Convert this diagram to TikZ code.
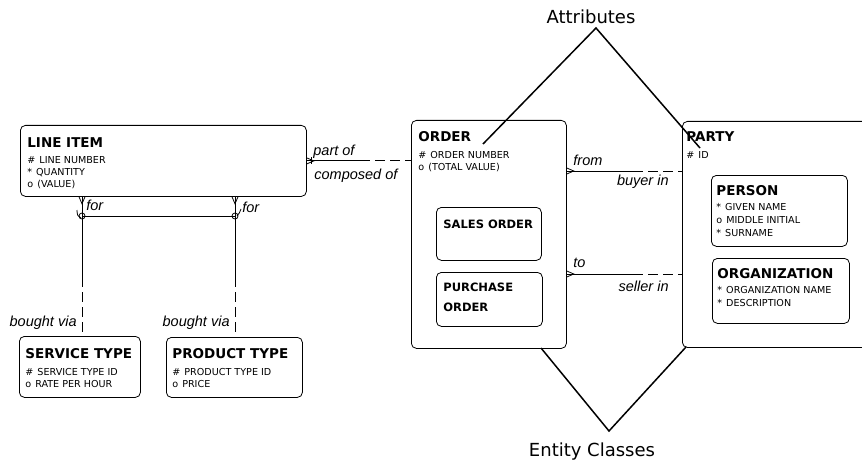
\documentclass[tikz,border=0pt]{standalone}
\usepackage{fontspec}
\setmainfont{DejaVu Sans}
\newfontfamily\lblfont{Liberation Sans}
\usetikzlibrary{calc}
\begin{document}
\begin{tikzpicture}[x=1pt,y=-1pt,line width=0.8pt,
  ebox/.style={draw,rounded corners=5pt,anchor=north west,inner sep=0pt},
  ttl/.style={anchor=base west,inner sep=0pt,font=\fontsize{13.5}{13.5}\selectfont\bfseries},
  sttl/.style={anchor=base west,inner sep=0pt,font=\fontsize{11.5}{11.5}\selectfont\bfseries},
  att/.style={anchor=base west,inner sep=0pt,font=\fontsize{9.6}{9.6}\selectfont},
  rel/.style={anchor=base west,inner sep=0pt,font=\lblfont\itshape\fontsize{14.5}{14.5}\selectfont},
  relr/.style={rel,anchor=base east},
  callout/.style={line width=1.5pt},
  callt/.style={inner sep=0pt,font=\fontsize{18}{18}\selectfont},
  dsh/.style={dash pattern=on 10pt off 5pt}]
\useasboundingbox (0,0) rectangle (862,468);

% ---------- boxes ----------
\node[ebox,minimum width=286pt,minimum height=71pt] (lineitem) at (20,125) {};
\node[ebox,minimum width=155pt,minimum height=228pt] (order) at (411,120) {};
\node[ebox,minimum width=105pt,minimum height=53pt] (sales) at (436,207) {};
\node[ebox,minimum width=106pt,minimum height=54pt] (purchase) at (436,272) {};
\begin{scope}
  \clip (0,0) rectangle (862,468);
  \node[ebox,minimum width=200pt,minimum height=226pt] (party) at (682,121) {};
\end{scope}
\node[ebox,minimum width=136pt,minimum height=71pt] (person) at (711,175) {};
\node[ebox,minimum width=137pt,minimum height=65pt] (org) at (712,258) {};
\node[ebox,minimum width=121pt,minimum height=61pt] (svc) at (19,336) {};
\node[ebox,minimum width=136pt,minimum height=60pt] (prod) at (166,337) {};

% ---------- texts ----------
\node[ttl] (t1) at (27,147.5) {LINE ITEM};
\node[att] (a11) at (27,163.5) {\#\hspace{4pt}LINE NUMBER};
\node[att] (a12) at (27,175.5) {*\hspace{4pt}QUANTITY};
\node[att] (a13) at (27,187.5) {o\hspace{4pt}(VALUE)};

\node[ttl] (t2) at (418,142) {ORDER};
\node[att] (a21) at (418,158.5) {\#\hspace{4pt}ORDER NUMBER};
\node[att] (a22) at (418,170.5) {o\hspace{4pt}(TOTAL VALUE)};
\node[sttl] (t3) at (443,228) {SALES ORDER};
\node[sttl] (t4) at (443,291.5) {PURCHASE};
\node[sttl] (t4b) at (443,311.5) {ORDER};

\node[ttl] (t5) at (686,142) {PARTY};
\node[att] (a51) at (686,158.5) {\#\hspace{4pt}ID};
\node[ttl] (t6) at (716,195) {PERSON};
\node[att] (a61) at (716,210.5) {*\hspace{4pt}GIVEN NAME};
\node[att] (a62) at (716,223.5) {o\hspace{4pt}MIDDLE INITIAL};
\node[att] (a63) at (716,236.5) {*\hspace{4pt}SURNAME};
\node[ttl] (t7) at (717,278) {ORGANIZATION};
\node[att] (a71) at (717,293.5) {*\hspace{4pt}ORGANIZATION NAME};
\node[att] (a72) at (717,306.5) {*\hspace{4pt}DESCRIPTION};

\node[ttl] (t8) at (25,358) {SERVICE TYPE};
\node[att] (a81) at (25,375.5) {\#\hspace{4pt}SERVICE TYPE ID};
\node[att] (a82) at (25,387.5) {o\hspace{4pt}RATE PER HOUR};
\node[ttl] (t9) at (172,358) {PRODUCT TYPE};
\node[att] (a91) at (172,375.5) {\#\hspace{4pt}PRODUCT TYPE ID};
\node[att] (a92) at (172,387.5) {o\hspace{4pt}PRICE};

% ---------- relationship labels ----------
\node[rel] (lpart) at (313,156) {part of};
\node[rel] (lcomp) at (314,179) {composed of};
\node[rel] (lfrom) at (573,165) {from};
\node[relr] (lbuyer) at (669,185) {buyer in};
\node[rel] (lto) at (573,267) {to};
\node[relr] (lseller) at (669,291) {seller in};
\node[rel] (lfor1) at (86,210) {for};
\node[rel] (lfor2) at (242,212) {for};
\node[relr] (lbv1) at (77,326) {bought via};
\node[relr] (lbv2) at (230,326) {bought via};

% ---------- relationships ----------
% LINE ITEM -- ORDER
\coordinate (m0) at (360,0);
\draw (lineitem.east) -- (lineitem.east -| m0);
\draw[dsh] (lineitem.east -| m0) -- (order.west |- lineitem.east);
\draw ($(lineitem.east)+(0,-3)$) -- ++(7,3) -- ++(-7,3);
\draw ($(lineitem.east)+(5,-3.5)$) -- ++(0,7);

% ORDER -- PARTY (from / buyer in)
\coordinate (r1) at (633,171);
\draw (order.east |- r1) -- (r1);
\draw[dsh] (r1) -- (party.west |- r1);
\draw ($(order.east |- r1)+(0,-3)$) -- ++(7,3) -- ++(-7,3);

% ORDER -- PARTY (to / seller in)
\coordinate (r2) at (633,274);
\draw (order.east |- r2) -- (r2);
\draw[dsh] (r2) -- (party.west |- r2);
\draw ($(order.east |- r2)+(0,-3)$) -- ++(7,3) -- ++(-7,3);

% LINE ITEM -- SERVICE TYPE
\coordinate (m1) at (82,277);
\coordinate (x1) at (82,216);
\draw (lineitem.south -| m1) -- (m1);
\draw[dsh] (m1) -- (svc.north -| m1);
\draw ($(lineitem.south -| m1)+(-3,0)$) -- ++(3,7) -- ++(3,-7);

% LINE ITEM -- PRODUCT TYPE
\coordinate (m2) at (235,277);
\coordinate (x2) at (235,216);
\draw (lineitem.south -| m2) -- (m2);
\draw[dsh] (m2) -- (prod.north -| m2);
\draw ($(lineitem.south -| m2)+(-3,0)$) -- ++(3,7) -- ++(3,-7);

% exclusive arc
\draw (x1) -- (x2);
\draw (x1) circle[radius=3pt];
\draw (x2) circle[radius=3pt];
\draw (77,210) .. controls (77,215) and (78,217) .. (81,218);
\draw (237,216) .. controls (239,214) and (240,212) .. (241,209);

% ---------- callouts ----------
\node[callt] (attr) at (591,17) {Attributes};
\node[callt] (ent) at (592,452) {Entity Classes};
\coordinate (ap) at (596,28);
\coordinate (ae1) at (483,144);
\coordinate (ae2) at (700,148);
\draw[callout] (ae1) -- (ap) -- (ae2);
\coordinate (ep) at (609,431);
\coordinate (ee1) at (541,348);
\coordinate (ee2) at (686,347);
\draw[callout] (ee1) -- (ep) -- (ee2);
\end{tikzpicture}
\end{document}
